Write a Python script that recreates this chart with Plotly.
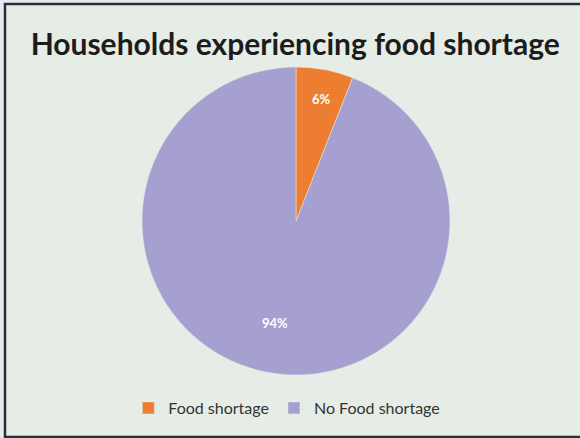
import math
import plotly.graph_objects as go

# Share of households by food situation (percent)
categories = ["Food shortage", "No Food shortage"]
shares = [6, 94]
slice_colors = ["#ED7D31", "#A5A0D0"]

title_text = "Households experiencing food shortage"

W, H = 580, 438
# pie placement in pixels (centre and radius)
CX, CY, R = 296, 221, 154
# how far out along each slice's mid-angle its label sits (fraction of radius)
label_radius = [0.87, 0.74]

fig = go.Figure(
    go.Pie(
        labels=categories,
        values=shares,
        sort=False,
        direction="clockwise",
        rotation=0,
        marker=dict(colors=slice_colors, line=dict(color="#e6ede6", width=0.5)),
        textinfo="none",
        hoverinfo="label+percent",
        domain=dict(x=[(CX - R) / W, (CX + R) / W], y=[1 - (CY + R) / H, 1 - (CY - R) / H]),
    )
)

# value labels placed along each slice's mid-angle (clockwise from 12 o'clock)
total = sum(shares)
start = 0.0
annotations = []
for val, frac in zip(shares, label_radius):
    mid = (start + val / 2) / total * 2 * math.pi
    start += val
    px = CX + frac * R * math.sin(mid)
    py = CY - frac * R * math.cos(mid)
    annotations.append(
        dict(
            x=px / W,
            y=1 - py / H,
            xref="paper",
            yref="paper",
            text=f"{val}%",
            showarrow=False,
            font=dict(family="Lato", size=13, color="white", weight="bold"),
        )
    )

fig.update_layout(
    width=W,
    height=H,
    margin=dict(l=0, r=0, t=0, b=0),
    paper_bgcolor="#e2ecf2",
    plot_bgcolor="#e6ede6",
    title=dict(
        text=title_text,
        x=0.509,
        xanchor="center",
        y=1 - 44 / H,
        yanchor="middle",
        font=dict(family="Lato", size=30, color="#1c1c1c", weight="bold"),
    ),
    legend=dict(
        orientation="h",
        x=0.4945,
        xanchor="center",
        y=1 - 408 / H,
        yanchor="middle",
        bgcolor="rgba(0,0,0,0)",
        font=dict(family="Lato", size=16, color="#333333"),
        itemwidth=30,
        traceorder="normal",
    ),
    annotations=annotations,
    shapes=[
        dict(
            type="rect",
            xref="paper",
            yref="paper",
            x0=5 / W,
            x1=1.02,
            y0=1 / H,
            y1=1 - 4 / H,
            fillcolor="#e6ede6",
            line=dict(color="#2e2e2e", width=2.5),
            layer="below",
        )
    ],
)

fig.write_html("out.html")
